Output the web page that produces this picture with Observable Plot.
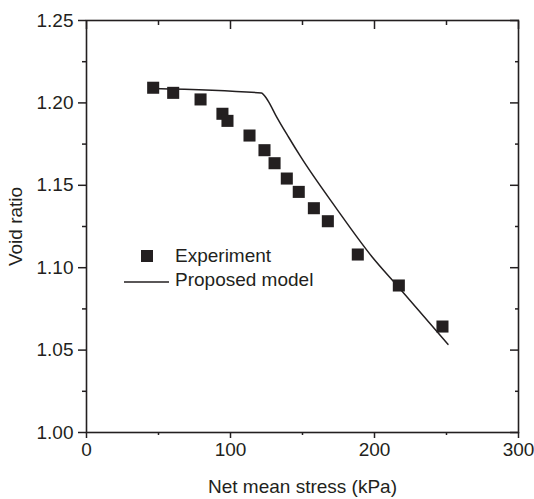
<!DOCTYPE html>
<html>
<head>
<meta charset="utf-8">
<script src="https://cdn.jsdelivr.net/npm/d3@7"></script>
<script src="https://cdn.jsdelivr.net/npm/@observablehq/plot@0.6"></script>
<style>
  body { margin: 0; background: #fff; }
  #wrap { position: relative; width: 534px; height: 499px; font-family: "Liberation Sans", Arial, sans-serif; color: #231f20; }
  .leg { position: absolute; font-size: 19px; line-height: 22px; white-space: nowrap; }
</style>
</head>
<body>
<div id="wrap"></div>
<script>
// Experimental data (net mean stress kPa, void ratio)
const expStress = [46.3, 60.2, 79.2, 94.4, 97.9, 113.2, 123.6, 130.6, 139.1, 147.4, 157.9, 167.6, 188.4, 216.9, 247.2];
const expVoid   = [1.2092, 1.2061, 1.2021, 1.1934, 1.1891, 1.1802, 1.1713, 1.1634, 1.1541, 1.1460, 1.1361, 1.1282, 1.1080, 1.0892, 1.0643];
// Proposed model curve
const modelStress = [46.3, 121.5, 123.5, 126.6, 131.25, 140.5, 148.6, 173.5, 198.4, 216.9, 251.0];
const modelVoid   = [1.2088, 1.2060, 1.2045, 1.2005, 1.1928, 1.1790, 1.1675, 1.1360, 1.1065, 1.0880, 1.0535];
// Axis ticks
const xMajor = [0, 100, 200, 300];
const xMinor = [50, 150, 250];
const yMajor = [1.00, 1.05, 1.10, 1.15, 1.20, 1.25];
const yMinor = [1.025, 1.075, 1.125, 1.175, 1.225];
const legendLabels = ["Experiment", "Proposed model"];

const ink = "#231f20";
const expData = expStress.map((x, i) => ({x, y: expVoid[i]}));
const modelData = modelStress.map((x, i) => ({x, y: modelVoid[i]}));

const chart = Plot.plot({
  width: 534,
  height: 499,
  marginLeft: 86,
  marginRight: 16,
  marginTop: 20,
  marginBottom: 67,
  style: {fontFamily: '"Liberation Sans", Arial, sans-serif', fontSize: "19px", color: ink, background: "#fff"},
  x: {domain: [0, 300]},
  y: {domain: [1.00, 1.25]},
  marks: [
    Plot.axisX({ticks: xMajor, tickSize: 6, tickPadding: 4, strokeWidth: 1.5, label: "Net mean stress (kPa)", labelAnchor: "center", labelOffset: 60, labelArrow: "none"}),
    Plot.axisX({ticks: xMinor, tickSize: 3, text: null, label: null, strokeWidth: 1.5}),
    Plot.axisX({anchor: "top", ticks: xMajor, tickSize: 8, dy: 8, text: null, label: null, strokeWidth: 1.5}),
    Plot.axisX({anchor: "top", ticks: xMinor, tickSize: 4, dy: 4, text: null, label: null, strokeWidth: 1.5}),
    Plot.axisY({ticks: yMajor, tickSize: 8, tickPadding: 5, tickFormat: d3.format(".2f"), strokeWidth: 1.5, label: "Void ratio", labelAnchor: "center", labelOffset: 78, labelArrow: "none"}),
    Plot.axisY({ticks: yMinor, tickSize: 4, text: null, label: null, strokeWidth: 1.5}),
    Plot.axisY({anchor: "right", ticks: yMajor, tickSize: 9, dx: -9, text: null, label: null, strokeWidth: 1.5}),
    Plot.axisY({anchor: "right", ticks: yMinor, tickSize: 4, dx: -4, text: null, label: null, strokeWidth: 1.5}),
    Plot.frame({stroke: ink, strokeWidth: 1.6}),
    Plot.line(modelData, {x: "x", y: "y", stroke: ink, strokeWidth: 1.5, curve: "monotone-x"}),
    Plot.dot(expData, {x: "x", y: "y", symbol: "square", r: 6.8, fill: ink, stroke: null})
  ]
});

const wrap = document.getElementById("wrap");
wrap.appendChild(chart);

// Legend overlay (inside plot area)
function addLegendItem(symbolHtml, sx, sy, label, tx, ty) {
  const s = document.createElement("div");
  s.className = "leg";
  s.style.left = sx + "px"; s.style.top = sy + "px"; s.style.lineHeight = "0";
  s.innerHTML = symbolHtml;
  wrap.appendChild(s);
  const t = document.createElement("div");
  t.className = "leg";
  t.style.left = tx + "px"; t.style.top = ty + "px";
  t.textContent = label;
  wrap.appendChild(t);
}
addLegendItem(`<svg width="12" height="12"><rect width="12" height="12" fill="${ink}"/></svg>`, 141, 250, legendLabels[0], 175, 245);
addLegendItem(`<svg width="45" height="4"><line x1="0" x2="45" y1="2" y2="2" stroke="${ink}" stroke-width="1.5"/></svg>`, 124, 278, legendLabels[1], 175, 269);
</script>
</body>
</html>
